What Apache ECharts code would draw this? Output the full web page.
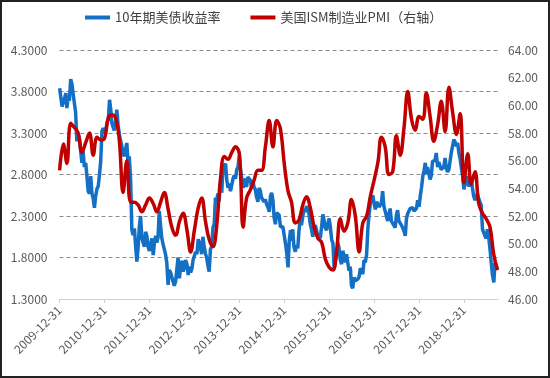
<!DOCTYPE html>
<html>
<head>
<meta charset="utf-8">
<script src="https://cdn.jsdelivr.net/npm/echarts@6/dist/echarts.min.js"></script>
<style>
  html, body { margin: 0; padding: 0; background: #fff; }
  #main { width: 550px; height: 378px; }
  #frame { position: absolute; left: 0; top: 0; width: 550px; height: 378px;
           box-sizing: border-box; border: 2px solid #222; pointer-events: none; }
</style>
</head>
<body>
<div id="main"></div>
<div id="frame"></div>
<script>
// 10年期美债收益率：每月1日、11日、21日取值，从2010-01起
var yieldValues = [
  3.84, 3.83, 3.62, 3.64, 3.72, 3.78, 3.60, 3.72, 3.69, 3.95, 3.89, 3.77, 3.66, 3.55, 3.20, 3.28, 3.23, 3.22, 2.94, 3.08, 2.89, 2.94, 2.78, 2.60, 2.57, 2.78, 2.57, 2.51, 2.40, 2.54, 2.63, 2.66, 2.80, 2.96, 3.32, 3.36,
  3.30, 3.34, 3.42, 3.47, 3.70, 3.58, 3.42, 3.40, 3.33, 3.45, 3.58, 3.40, 3.29, 3.21, 3.15, 3.05, 3.02, 3.00, 3.18, 2.95, 3.02, 2.75, 2.14, 2.07, 2.15, 1.93, 1.75, 1.92, 2.17, 2.30, 2.03, 2.04, 1.93, 2.11, 2.06, 1.93,
  1.88, 1.90, 2.03, 1.83, 1.98, 2.06, 1.98, 2.04, 2.36, 2.18, 2.03, 1.96, 1.95, 1.84, 1.74, 1.47, 1.65, 1.62, 1.63, 1.51, 1.46, 1.51, 1.66, 1.80, 1.55, 1.70, 1.76, 1.63, 1.68, 1.77, 1.72, 1.59, 1.69, 1.62, 1.66, 1.77,
  1.76, 1.87, 1.84, 2.02, 1.98, 1.98, 1.84, 2.05, 1.93, 1.85, 1.79, 1.70, 1.63, 1.90, 1.93, 2.16, 2.21, 2.52, 2.49, 2.57, 2.48, 2.71, 2.58, 2.88, 2.90, 2.93, 2.73, 2.64, 2.69, 2.60, 2.62, 2.75, 2.79, 2.75, 2.86, 2.89,
  3.03, 2.86, 2.84, 2.64, 2.71, 2.75, 2.65, 2.77, 2.75, 2.73, 2.63, 2.72, 2.65, 2.62, 2.53, 2.47, 2.64, 2.60, 2.52, 2.52, 2.47, 2.50, 2.44, 2.41, 2.35, 2.54, 2.58, 2.49, 2.28, 2.20, 2.34, 2.36, 2.31, 2.17, 2.17, 2.17,
  2.17, 1.97, 1.86, 1.68, 2.00, 2.13, 2.00, 2.14, 1.93, 1.87, 1.95, 1.91, 2.12, 2.28, 2.19, 2.18, 2.39, 2.35, 2.42, 2.40, 2.33, 2.20, 2.14, 2.05, 2.15, 2.19, 2.19, 2.06, 2.09, 2.03, 2.17, 2.32, 2.25, 2.16, 2.13, 2.20,
  2.27, 2.17, 2.02, 1.97, 1.66, 1.76, 1.83, 1.98, 1.92, 1.77, 1.72, 1.88, 1.83, 1.74, 1.84, 1.85, 1.64, 1.69, 1.46, 1.43, 1.56, 1.52, 1.51, 1.54, 1.57, 1.67, 1.64, 1.60, 1.77, 1.74, 1.84, 2.15, 2.32, 2.45, 2.47, 2.55,
  2.45, 2.38, 2.47, 2.48, 2.41, 2.43, 2.46, 2.60, 2.42, 2.40, 2.30, 2.24, 2.32, 2.39, 2.24, 2.21, 2.21, 2.16, 2.31, 2.37, 2.24, 2.25, 2.19, 2.18, 2.12, 2.06, 2.27, 2.33, 2.35, 2.39, 2.37, 2.40, 2.36, 2.37, 2.39, 2.49,
  2.41, 2.54, 2.64, 2.78, 2.85, 2.94, 2.81, 2.89, 2.89, 2.74, 2.79, 2.96, 2.97, 2.97, 3.06, 2.89, 2.95, 2.90, 2.86, 2.85, 2.89, 3.00, 2.87, 2.83, 2.86, 2.97, 3.07, 3.08, 3.22, 3.19, 3.14, 3.18, 3.06, 2.99, 2.88, 2.79,
  2.62, 2.70, 2.78, 2.69, 2.66, 2.69, 2.76, 2.64, 2.54, 2.49, 2.50, 2.57, 2.51, 2.47, 2.43, 2.14, 2.14, 2.06, 2.03, 2.14, 2.05, 1.90, 1.74, 1.59, 1.50, 1.74, 1.74, 1.65
];
var yieldDays = [1, 11, 21];

// 美国ISM制造业PMI：按发布日（每月1日）取值，从2010-01起
var pmiValues = [
  55.3, 57.2, 55.8, 58.7, 58.4, 58.0, 56.6, 57.3, 58.0, 56.4, 57.7, 57.5,
  57.6, 59.1, 59.3, 59.1, 57.5, 53.7, 56.0, 53.0, 53.0, 52.8, 52.3, 52.8,
  53.3, 52.9, 52.3, 53.0, 53.7, 52.5, 51.2, 50.6, 51.6, 52.2, 51.0, 49.4,
  51.0, 52.6, 53.3, 51.6, 50.3, 49.8, 51.3, 54.7, 56.3, 56.1, 56.6, 57.0,
  56.5, 51.2, 53.3, 53.9, 54.6, 55.3, 55.3, 57.0, 58.9, 57.0, 58.9, 58.3,
  55.8, 53.8, 53.0, 51.5, 51.7, 52.8, 53.4, 52.6, 51.2, 50.4, 50.1, 48.9,
  48.3, 48.1, 49.4, 51.8, 50.9, 51.5, 53.2, 52.0, 49.4, 51.5, 52.0, 53.4,
  54.6, 55.9, 57.7, 57.0, 55.0, 55.2, 57.8, 56.4, 58.4, 61.0, 59.0, 58.2,
  59.2, 59.0, 60.9, 59.2, 57.4, 58.6, 60.3, 58.1, 61.3, 59.5, 57.9, 59.4,
  54.4, 56.5, 54.3, 55.2, 52.9, 52.2, 51.8, 51.2, 49.2, 48.1
];

var yearTicks = ['2009-12-31', '2010-12-31', '2011-12-31', '2012-12-31', '2013-12-31',
  '2014-12-31', '2015-12-31', '2016-12-31', '2017-12-31', '2018-12-31'];
var seriesNames = ['10年期美债收益率', '美国ISM制造业PMI（右轴）'];

var font = '"Noto Sans CJK SC", "Noto Sans", sans-serif';

function pad(n) { return n < 10 ? '0' + n : '' + n; }
function toTime(s) { return echarts.number.parseDate(s).getTime(); }

var yieldData = yieldValues.map(function (v, i) {
  var m = Math.floor(i / 3);
  var d = (2010 + Math.floor(m / 12)) + '-' + pad(m % 12 + 1) + '-' + pad(yieldDays[i % 3]);
  return [toTime(d), v];
});
var pmiData = pmiValues.map(function (v, m) {
  var d = (2010 + Math.floor(m / 12)) + '-' + pad(m % 12 + 1) + '-01';
  return [toTime(d), v];
});
var tickTimes = yearTicks.map(toTime);

var myChart = echarts.init(document.getElementById('main'));
myChart.setOption({
  animation: false,
  textStyle: { fontFamily: font },
  legend: {
    top: 6,
    left: 80,
    itemGap: 30,
    itemWidth: 25,
    itemHeight: 4,
    icon: 'rect',
    textStyle: { fontSize: 13, color: '#404040', fontFamily: font },
    data: seriesNames
  },
  grid: { left: 59.5, right: 52, top: 50, bottom: 79, outerBoundsMode: 'none' },
  xAxis: {
    type: 'value',
    min: toTime('2009-12-31'),
    max: toTime('2019-10-05'),
    axisLine: { lineStyle: { color: '#d0d0d0', width: 1 } },
    axisTick: { show: true, customValues: tickTimes, length: 4, lineStyle: { color: '#d0d0d0' } },
    axisLabel: {
      customValues: tickTimes,
      rotate: 45,
      margin: 9,
      fontSize: 12,
      color: '#595959',
      fontFamily: font,
      formatter: function (v) {
        var d = new Date(v);
        return d.getFullYear() + '-' + pad(d.getMonth() + 1) + '-' + pad(d.getDate());
      }
    },
    splitLine: { show: false }
  },
  yAxis: [
    {
      type: 'value',
      min: 1.3,
      max: 4.3,
      interval: 0.5,
      axisLine: { show: false },
      axisTick: { show: false },
      axisLabel: {
        margin: 12, fontSize: 12, color: '#595959', fontFamily: font,
        formatter: function (v) { return v.toFixed(4); }
      },
      splitLine: { lineStyle: { color: '#8c8c8c', type: [4, 3], width: 1 } }
    },
    {
      type: 'value',
      min: 46,
      max: 64,
      interval: 2,
      axisLine: { show: false },
      axisTick: { show: false },
      axisLabel: {
        margin: 10, fontSize: 12, color: '#595959', fontFamily: font,
        formatter: function (v) { return v.toFixed(2); }
      },
      splitLine: { show: false }
    }
  ],
  series: [
    {
      name: seriesNames[0],
      type: 'line',
      yAxisIndex: 0,
      showSymbol: false,
      data: yieldData,
      itemStyle: { color: '#1470c4' },
      lineStyle: { color: '#1470c4', width: 3.5 }
    },
    {
      name: seriesNames[1],
      type: 'line',
      yAxisIndex: 1,
      showSymbol: false,
      smooth: 0.4,
      data: pmiData,
      itemStyle: { color: '#c00000' },
      lineStyle: { color: '#c00000', width: 3.5 }
    }
  ]
});
</script>
</body>
</html>
